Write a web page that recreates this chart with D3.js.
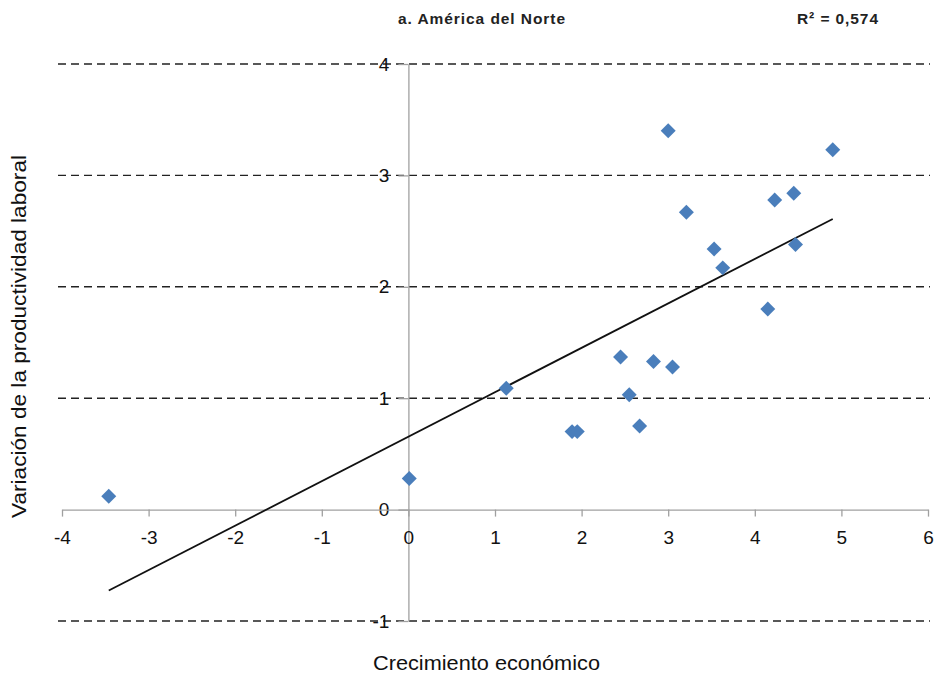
<!DOCTYPE html>
<html><head><meta charset="utf-8">
<script src="https://cdn.jsdelivr.net/npm/d3@7"></script>
<style>body{margin:0;background:#fff}svg{display:block;font-family:"Liberation Sans",Arial,sans-serif}</style>
</head><body>
<svg id="c" width="938" height="674"></svg>
<script>
const xValues = [-3.46, 0.01, 1.13, 1.89, 1.95, 2.45, 2.55, 2.67, 2.83, 3.05, 3.00, 3.21, 3.53, 3.63, 4.15, 4.23, 4.45, 4.47, 4.90];
const yValues = [0.12, 0.28, 1.09, 0.70, 0.70, 1.37, 1.03, 0.75, 1.33, 1.28, 3.40, 2.67, 2.34, 2.17, 1.80, 2.78, 2.84, 2.38, 3.23];
const xTicks = [-4, -3, -2, -1, 0, 1, 2, 3, 4, 5, 6];
const yTicks = [-1, 0, 1, 2, 3, 4];
const trendSlope = 0.399;
const trendIntercept = 0.654;
const title = "a. América del Norte";
const r2Label = "R² = 0,574";
const xLabel = "Crecimiento económico";
const yLabel = "Variación de la productividad laboral";

const svg = d3.select("#c");
const x = d3.scaleLinear().domain([-4, 6]).range([62, 928]);
const y = d3.scaleLinear().domain([-1, 4]).range([621, 64]);
const fmt = d => d < 0 ? "-" + Math.abs(d) : String(d);

// gridlines
svg.append("g").selectAll("line").data(yTicks.filter(d => d !== 0)).join("line")
  .attr("x1", 58).attr("x2", 930)
  .attr("y1", d => y(d)).attr("y2", d => y(d))
  .attr("stroke", "#222").attr("stroke-width", 1.4).attr("stroke-dasharray", "8,5");

// y axis (vertical at x=0)
const gy = svg.append("g").attr("transform", `translate(${x(0)},0)`)
  .call(d3.axisLeft(y).tickValues(yTicks).tickSize(10).tickSizeOuter(0).tickFormat(fmt));
gy.select(".domain").attr("stroke", "#a0a0a0").attr("stroke-width", 1.3);
gy.selectAll(".tick line").attr("stroke", "#a0a0a0").attr("stroke-width", 1.3);
gy.selectAll(".tick text").attr("font-size", 19).attr("fill", "#111").attr("x", -19)
  .attr("font-family", "Liberation Sans, Arial, sans-serif");

// x axis (horizontal at y=0)
const gx = svg.append("g").attr("transform", `translate(0,${y(0)})`)
  .call(d3.axisBottom(x).tickValues(xTicks).tickSize(7).tickSizeOuter(0).tickFormat(fmt));
gx.select(".domain").attr("stroke", "#a0a0a0").attr("stroke-width", 1.3);
gx.selectAll(".tick line").attr("stroke", "#a0a0a0").attr("stroke-width", 1.3);
gx.selectAll(".tick text").attr("font-size", 19).attr("fill", "#111").attr("y", 21)
  .attr("font-family", "Liberation Sans, Arial, sans-serif");

// trend line
const tx0 = d3.min(xValues), tx1 = d3.max(xValues);
svg.append("line")
  .attr("x1", x(tx0)).attr("y1", y(trendSlope * tx0 + trendIntercept))
  .attr("x2", x(tx1)).attr("y2", y(trendSlope * tx1 + trendIntercept))
  .attr("stroke", "#111").attr("stroke-width", 1.8);

// points
const pts = xValues.map((v, i) => ({x: v, y: yValues[i]}));
svg.append("g").selectAll("path").data(pts).join("path")
  .attr("d", d3.symbol().type(d3.symbolSquare).size(112))
  .attr("transform", d => `translate(${x(d.x)},${y(d.y)}) rotate(45)`)
  .attr("fill", "#4a7ebb");

// texts
svg.append("text").attr("x", 398).attr("y", 24).attr("font-size", 15.5).attr("font-weight", "bold").attr("fill", "#222").attr("textLength", 167).text(title);
svg.append("text").attr("x", 797).attr("y", 24).attr("font-size", 15.5).attr("font-weight", "bold").attr("fill", "#222").attr("textLength", 81).text(r2Label);
svg.append("text").attr("x", 373).attr("y", 670).attr("font-size", 21).attr("fill", "#111").attr("textLength", 227).attr("lengthAdjust", "spacingAndGlyphs").text(xLabel);
svg.append("text").attr("transform", "translate(26,518) rotate(-90)").attr("font-size", 21).attr("fill", "#111").attr("textLength", 363).attr("lengthAdjust", "spacingAndGlyphs").text(yLabel);
</script>
</body></html>
